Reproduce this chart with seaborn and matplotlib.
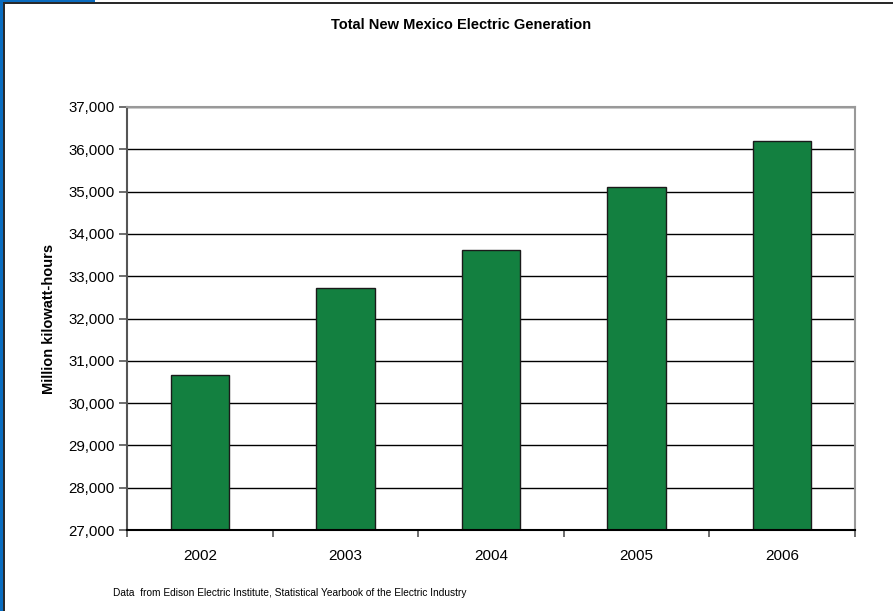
import matplotlib
matplotlib.use("Agg")
import matplotlib.pyplot as plt
from matplotlib.patches import Rectangle
from matplotlib.ticker import FuncFormatter, FixedLocator
import seaborn as sns
import pandas as pd

years = ["2002", "2003", "2004", "2005", "2006"]
generation = [30670, 32730, 33630, 35100, 36200]

sns.set_theme(style="white")
plt.rcParams["font.family"] = ["Liberation Sans", "DejaVu Sans"]
plt.rcParams["text.color"] = "#000000"
plt.rcParams["axes.labelcolor"] = "#000000"

df = pd.DataFrame({"year": years, "mkwh": generation})

fig = plt.figure(figsize=(8.93, 6.11), dpi=100)
ax = fig.add_axes([127 / 893, 1 - 530 / 611, (855 - 127) / 893, (530 - 107) / 611])

sns.barplot(data=df, x="year", y="mkwh", color="#138040", width=0.4,
            edgecolor="#1a1a1a", linewidth=1.0, saturation=1, ax=ax, zorder=3)

ax.set_ylim(27000, 37000)
ax.set_xlim(-0.5, len(years) - 0.5)
ax.set_yticks(range(27000, 37001, 1000))
ax.yaxis.set_major_formatter(FuncFormatter(lambda v, p: f"{int(v):,}"))
ax.grid(axis="y", color="#000000", linewidth=1.0, zorder=0)
ax.set_axisbelow(True)

# category boundaries as outward tick marks, labels centred without ticks
ax.xaxis.set_minor_locator(FixedLocator([i - 0.5 for i in range(len(years) + 1)]))
ax.tick_params(axis="x", which="major", length=0, pad=14, labelsize=11, labelcolor="#000000")
ax.tick_params(axis="x", which="minor", length=5, width=1.2, color="#555555", bottom=True)
ax.tick_params(axis="y", which="major", length=6, width=1.2, color="#555555", left=True,
               labelsize=10.8, labelcolor="#000000", pad=3)

for side in ("left", "bottom"):
    ax.spines[side].set_color("#555555")
    ax.spines[side].set_linewidth(1.5)
for side in ("top", "right"):
    ax.spines[side].set_color("#999999")
    ax.spines[side].set_linewidth(1.5)
ax.spines["bottom"].set_color("#000000")
ax.spines["bottom"].set_zorder(4)

ax.set_xlabel("")
ax.set_ylabel("Million kilowatt-hours", fontsize=10.5, fontweight="bold", labelpad=9)

fig.text(461 / 893, 1 - 25 / 611, "Total New Mexico Electric Generation",
         ha="center", va="center", fontsize=10.5, fontweight="bold")
fig.text(113 / 893, 1 - 593 / 611,
         "Data  from Edison Electric Institute, Statistical Yearbook of the Electric Industry",
         ha="left", va="center", fontsize=7.3)

# frame around the figure: blue edge strip with a dark inner line
fig.patches.append(Rectangle((0, 0), 3 / 893, 1, transform=fig.transFigure,
                             facecolor="#0a6cbf", edgecolor="none"))
fig.patches.append(Rectangle((0, 1 - 2 / 611), 95 / 893, 2 / 611, transform=fig.transFigure,
                             facecolor="#0a6cbf", edgecolor="none"))
fig.patches.append(Rectangle((3 / 893, 0), 2 / 893, 1 - 2 / 611, transform=fig.transFigure,
                             facecolor="#2a2a2a", edgecolor="none"))
fig.patches.append(Rectangle((3 / 893, 1 - 4 / 611), 1, 2 / 611, transform=fig.transFigure,
                             facecolor="#2a2a2a", edgecolor="none"))

fig.savefig("out.png", dpi=100)
